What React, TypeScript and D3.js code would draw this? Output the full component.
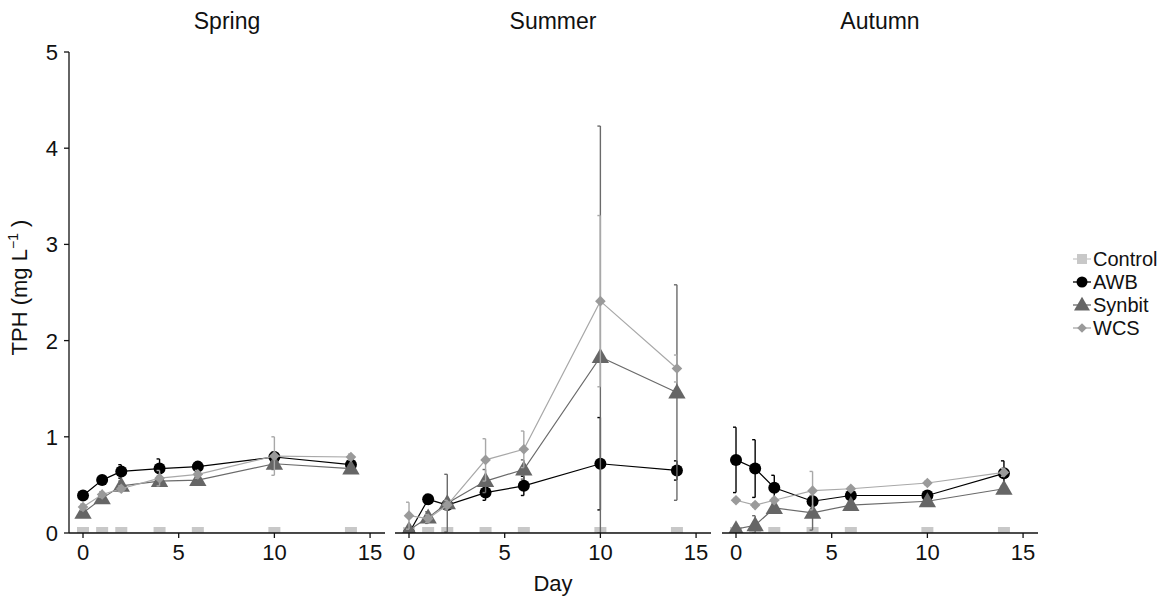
import React from "react";
import * as d3 from "d3";

const days = [0, 1, 2, 4, 6, 10, 14];
const seasons = ["Spring", "Summer", "Autumn"];
const seriesNames = ["Control", "AWB", "Synbit", "WCS"];
const xTicks = [0, 5, 10, 15];
const yTicks = [0, 1, 2, 3, 4, 5];

// mean values [season][day]
const controlVals = [
  [0, 0, 0, 0, 0, 0, 0],
  [0, 0, 0, 0, 0, 0, 0],
  [0, 0, 0, 0, 0, 0, 0],
];
const awbVals = [
  [0.39, 0.55, 0.64, 0.67, 0.69, 0.79, 0.71],
  [0.0, 0.35, 0.29, 0.42, 0.49, 0.72, 0.65],
  [0.76, 0.67, 0.47, 0.33, 0.39, 0.39, 0.62],
];
const synbitVals = [
  [0.21, 0.36, 0.49, 0.54, 0.55, 0.72, 0.67],
  [0.03, 0.16, 0.31, 0.54, 0.66, 1.83, 1.46],
  [0.04, 0.08, 0.26, 0.21, 0.29, 0.33, 0.46],
];
const wcsVals = [
  [0.27, 0.4, 0.46, 0.57, 0.61, 0.8, 0.79],
  [0.18, 0.15, 0.29, 0.76, 0.87, 2.41, 1.71],
  [0.34, 0.29, 0.34, 0.44, 0.46, 0.52, 0.63],
];
// standard errors
const controlErr = [
  [0, 0, 0, 0, 0, 0, 0],
  [0, 0, 0, 0, 0, 0, 0],
  [0, 0, 0, 0, 0, 0, 0],
];
const awbErr = [
  [0.03, 0.03, 0.07, 0.1, 0.03, 0.05, 0.04],
  [0.02, 0.05, 0.04, 0.08, 0.1, 0.48, 0.1],
  [0.34, 0.3, 0.13, 0.05, 0.03, 0.03, 0.13],
];
const synbitErr = [
  [0.03, 0.03, 0.05, 0.05, 0.03, 0.06, 0.03],
  [0.02, 0.06, 0.3, 0.12, 0.1, 2.4, 1.12],
  [0.02, 0.1, 0.04, 0.18, 0.03, 0.03, 0.03],
];
const wcsErr = [
  [0.03, 0.03, 0.03, 0.08, 0.04, 0.2, 0.03],
  [0.14, 0.04, 0.05, 0.22, 0.19, 0.89, 0.14],
  [0.02, 0.02, 0.02, 0.2, 0.02, 0.02, 0.04],
];

const seriesVals = [controlVals, awbVals, synbitVals, wcsVals];
const seriesErr = [controlErr, awbErr, synbitErr, wcsErr];
const seriesColor = ["#c8c8c8", "#000000", "#666666", "#9a9a9a"];
const lineColor = ["#c8c8c8", "#000000", "#6a6a6a", "#a8a8a8"];

const FONT = "'Liberation Sans', Arial, sans-serif";

const panelLefts = [69, 395, 722];
const panelW = 316;
const top = 52;
const bottom = 533;

const y = d3.scaleLinear().domain([0, 5]).range([bottom, top]);

function Marker({ s, cx, cy, legend }: { s: number; cx: number; cy: number; legend?: boolean }) {
  const c = seriesColor[s];
  if (s === 0) {
    const w = legend ? 10 : 12;
    const h = legend ? 10 : 12;
    return <rect x={cx - w / 2} y={cy - h / 2} width={w} height={h} fill={c} />;
  }
  if (s === 1) return <circle cx={cx} cy={cy} r={legend ? 5.5 : 6} fill={c} />;
  if (s === 2) {
    const p = d3.symbol().type(d3.symbolTriangle).size(legend ? 110 : 130)();
    return <path d={p || ""} transform={`translate(${cx},${cy + 1})`} fill={c} />;
  }
  const p = d3.symbol().type(d3.symbolDiamond2).size(legend ? 60 : 72)();
  return <path d={p || ""} transform={`translate(${cx},${cy})`} fill={c} />;
}

export default function App() {
  return (
    <svg width={1172} height={600} style={{ position: "absolute", left: 0, top: 0, background: "#fff" }} fontFamily={FONT}>
      <defs>
        {panelLefts.map((l, i) => (
          <clipPath id={`clip${i}`} key={i}>
            <rect x={l} y={0} width={panelW} height={bottom} />
          </clipPath>
        ))}
      </defs>
      {seasons.map((season, si) => {
        const left = panelLefts[si];
        const x = d3
          .scaleLinear()
          .domain([-0.732, 15.78])
          .range([left, left + panelW]);
        const line = d3
          .line<number>()
          .x((_, i) => x(days[i]))
          .y((v) => y(v));
        return (
          <g key={season}>
            <text x={left + panelW / 2} y={29} textAnchor="middle" fontSize={23} fill="#111">
              {season}
            </text>
            <g clipPath={`url(#clip${si})`}>
              {seriesNames.map((_, s) => (
                <g key={s}>
                  {s > 0 &&
                    days.map((d, i) => {
                      const v = seriesVals[s][si][i];
                      const e = seriesErr[s][si][i];
                      const xx = x(d);
                      const y1 = y(v + e);
                      const y0 = y(Math.max(0, v - e));
                      return (
                        <g key={i} stroke={lineColor[s]} strokeWidth={1.4} fill="none">
                          <line x1={xx} x2={xx} y1={y1} y2={y0} />
                          <line x1={xx - 3} x2={xx} y1={y1} y2={y1} />
                          <line x1={xx - 3} x2={xx} y1={y0} y2={y0} />
                        </g>
                      );
                    })}
                  <path d={line(seriesVals[s][si]) || ""} fill="none" stroke={lineColor[s]} strokeWidth={1.2} />
                  {days.map((d, i) => (
                    <Marker key={i} s={s} cx={x(d)} cy={y(seriesVals[s][si][i])} />
                  ))}
                </g>
              ))}
            </g>
            <line x1={left} x2={left + panelW} y1={bottom} y2={bottom} stroke="#111" strokeWidth={1.3} />
            {xTicks.map((t) => (
              <g key={t}>
                <line x1={x(t)} x2={x(t)} y1={bottom} y2={bottom + 5} stroke="#111" strokeWidth={1.3} />
                <text x={x(t)} y={bottom + 27} textAnchor="middle" fontSize={22} fill="#111">
                  {t}
                </text>
              </g>
            ))}
          </g>
        );
      })}
      {/* y axis */}
      <line x1={panelLefts[0]} x2={panelLefts[0]} y1={top} y2={bottom} stroke="#111" strokeWidth={1.3} />
      {yTicks.map((t) => (
        <g key={t}>
          <line x1={panelLefts[0] - 5} x2={panelLefts[0]} y1={y(t)} y2={y(t)} stroke="#111" strokeWidth={1.3} />
          <text x={panelLefts[0] - 11} y={y(t) + 8} textAnchor="end" fontSize={22} fill="#111">
            {t}
          </text>
        </g>
      ))}
      <text transform={`translate(27,${(top + bottom) / 2 - 5}) rotate(-90)`} textAnchor="middle" fontSize={22} fill="#111">
        TPH (mg L
        <tspan dy={-9} fontSize={14}>
          −1
        </tspan>
        <tspan dy={9}> )</tspan>
      </text>
      <text x={panelLefts[1] + panelW / 2} y={591} textAnchor="middle" fontSize={22} fill="#111">
        Day
      </text>
      {/* legend */}
      {seriesNames.map((n, s) => {
        const cy = 259 + s * 23;
        return (
          <g key={n}>
            <line x1={1073} x2={1091} y1={cy} y2={cy} stroke={lineColor[s]} strokeWidth={1.3} />
            <Marker s={s} cx={1082} cy={cy} legend />
            <text x={1093} y={cy + 7} fontSize={20} fill="#111">
              {n}
            </text>
          </g>
        );
      })}
    </svg>
  );
}
